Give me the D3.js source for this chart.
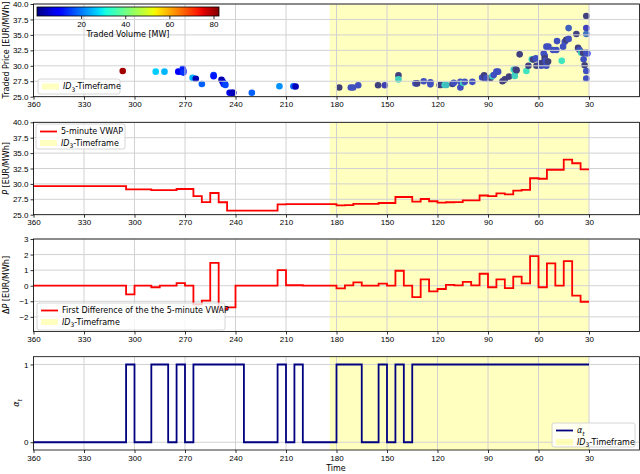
<!DOCTYPE html>
<html>
<head>
<meta charset="utf-8">
<script src="https://d3js.org/d3.v7.min.js"></script>
<style>
  body { margin: 0; background: #fff; }
  svg { font-family: "DejaVu Sans", sans-serif; }
  .tick text { font-size: 8px; fill: #000; }
  .tick line { stroke: #000; stroke-width: 0.8; }
  .grid line { stroke: #d2d2d2; stroke-width: 1; }
</style>
</head>
<body>
<svg id="chart" width="640" height="474"></svg>
<script>
// single trades: minutes before delivery, price [EUR/MWh], volume [MW]
var tradeTime = [307, 287.4, 282.2, 274, 272, 271.3, 271, 271, 265.5, 263.6, 260, 253, 253, 248.3, 247.6, 247, 246.3, 246,
  243.5, 242.2, 241.3, 230.3, 213.9, 205.6, 204.3,
  178.4, 171.5, 170.1, 167.1, 155.3, 151.3, 143.2, 143.2, 133.1, 132.1, 128.2, 124.2, 124.2, 118.7, 117.7, 115.7, 114.7,
  111.1, 110.3, 106.4, 106.4, 104.8, 103.8, 99.3, 93.5, 92.3, 91.9, 90.9, 88.6, 87.4, 86.6, 85, 84, 81.4, 80, 77.5,
  74.7, 74.1, 73.9, 73.5, 73, 71.2, 67.2, 66, 64, 63.2, 61.6, 61.2, 58.9, 58.3, 57.7, 56.9, 56.3, 56.3, 55.7, 55.3, 54.1,
  55.3, 54.3, 51.4, 49.4, 49, 46.2, 45.4, 44.4, 43.5, 42.1, 42.1, 37.5, 36.5, 35.6, 34.6, 33.6, 33.2, 32.6, 31.6, 31.6,
  31.6, 31.6, 31.6, 31.6, 31];
var tradePrice = [29.15, 29.05, 29.05, 29.05, 29.05, 29.5, 29.2, 28.9, 28.05, 27.9, 27.05, 28.5, 28.3, 27.75, 27.4, 27.05, 27.1, 26.9,
  25.65, 25.65, 25.65, 25.65, 26.7, 26.7, 26.65,
  26.5, 26.5, 26.5, 26.85, 26.85, 26.85, 28.45, 27.8, 27.15, 27.15, 27.5, 27.35, 27.0, 26.9, 26.9, 26.9, 26.9,
  27.05, 27.25, 27.4, 26.5, 27.25, 27.4, 27.4, 28.1, 28.45, 28.0, 28.0, 28.0, 28.3, 28.5, 29.05, 29.05, 27.5, 27.8, 28.25,
  29.4, 28.35, 29.05, 29.4, 29.3, 31.85, 29.15, 30.0, 31.05, 31.0, 31.2, 30.0, 30.4, 30.0, 30.5, 32.0, 31.6, 31.2, 30.8, 33.1, 33.1,
  30.0, 30.7, 32.55, 32.55, 34.0, 30.8, 33.1, 33.9, 34.2, 34.35, 36.1, 35.15, 32.9, 32.55, 32.1, 32.1, 31.05, 30.1, 32.1, 38.05,
  36.1, 35.15, 29.15, 27.95, 32.0];
var tradeVolume = [80, 27, 25, 10, 8, 14, 12, 14, 25, 4, 18, 15, 12, 3, 5, 12, 14, 16,
  8, 5, 4, 18, 22, 18, 4,
  2, 12, 12, 12, 3, 8, 3, 26, 12, 4, 12, 12, 12, 3, 4, 26, 24,
  4, 12, 12, 12, 26, 12, 12, 12, 3, 4, 12, 3, 26, 12, 12, 12, 3, 3, 3,
  26, 26, 26, 3, 3, 3, 28, 3, 26, 3, 12, 3, 12, 12, 3, 12, 12, 3, 12, 12, 12,
  12, 3, 12, 12, 12, 28, 12, 12, 3, 12, 14, 3, 3, 12, 26, 3, 12, 3, 12, 3,
  10, 16, 12, 12, 12];

// step series, value holds from each change time until the next one
var vwapTime = [360, 305, 290, 275, 265, 260, 255, 250, 245, 215, 210, 180, 175, 170, 155, 145, 135, 130, 125, 120,
  115, 110, 105, 100, 95, 90, 85, 80, 75, 70, 65, 60, 55, 45, 40, 35];
var vwapValue = [29.65, 29.1, 29.0, 29.17, 28.0, 27.03, 28.52, 27.02, 25.65, 26.68, 26.71, 26.52, 26.55, 26.75, 26.9, 27.87, 27.12, 27.55, 27.18, 26.96,
  27.02, 27.05, 27.32, 27.34, 28.12, 28.02, 28.45, 28.3, 28.9, 29.02, 30.92, 30.84, 32.3, 33.95, 33.35, 32.35];

var diffTime = [360, 305, 300, 290, 285, 275, 270, 265, 260, 255, 250, 245, 240, 215, 210, 200, 180, 175, 170, 165,
  155, 150, 145, 140, 135, 130, 125, 120, 115, 110, 105, 100, 95, 90, 85, 80, 75, 70, 65, 60, 55, 50, 45, 40, 35];
var diffValue = [0, -0.56, 0, -0.1, 0, 0.17, 0, -1.2, -0.96, 1.47, -1.5, -1.39, 0, 1.0, 0.03, 0, -0.17, 0.02, 0.21, 0,
  0.13, 0, 0.96, 0, -0.73, 0.41, -0.36, -0.21, 0.06, 0.02, 0.25, 0.02, 0.77, -0.1, 0.41, -0.15, 0.58, 0.15, 1.9, -0.1, 1.43, 0, 1.58, -0.64, -1.03];

var alphaTime = [360, 305, 300, 290, 280, 275, 270, 265, 235, 215, 210, 205, 200, 180, 165, 155, 150, 145, 140, 135];
var alphaValue = [0, 1, 0, 1, 0, 1, 0, 1, 0, 1, 0, 1, 0, 1, 0, 1, 0, 1, 0, 1];
var stepEnd = 30;

var xTicks = [360, 330, 300, 270, 240, 210, 180, 150, 120, 90, 60, 30];
var priceTicks = [25, 27.5, 30, 32.5, 35, 37.5, 40];
var diffTicks = [-2, -1, 0, 1, 2, 3];
var alphaTicks = [0, 1];
var volumeTicks = [20, 40, 60, 80];
var idStart = 184, idEnd = 30;

var svg = d3.select("#chart");

var x = d3.scaleLinear().domain([360, 0]).range([33.5, 639.5]);

// matplotlib jet colormap
function jet(t) {
  t = Math.max(0, Math.min(1, t));
  var r = d3.scaleLinear().domain([0, 0.35, 0.66, 0.89, 1]).range([0, 0, 1, 1, 0.5])(t);
  var g = d3.scaleLinear().domain([0, 0.125, 0.375, 0.64, 0.91, 1]).range([0, 0, 1, 1, 0, 0])(t);
  var b = d3.scaleLinear().domain([0, 0.11, 0.34, 0.65, 1]).range([0.5, 1, 1, 0, 0])(t);
  return d3.rgb(r * 255, g * 255, b * 255).formatHex();
}
var volScale = d3.scaleLinear().domain([0, 82.5]).range([0, 1]);

function makePanel(top, bottom, domain, ticks, fmt) {
  var y = d3.scaleLinear().domain(domain).range([bottom, top]);
  var g = svg.append("g");
  return {g: g, y: y, top: top, bottom: bottom, ticks: ticks, fmt: fmt};
}

function drawBand(p) {
  p.g.append("rect")
    .attr("x", x(idStart))
    .attr("width", x(idEnd) - x(idStart))
    .attr("y", p.top)
    .attr("height", p.bottom - p.top)
    .attr("fill", "#ffff00")
    .attr("opacity", 0.25);
}

function drawGrid(p) {
  var grid = p.g.append("g").attr("class", "grid");
  grid.selectAll(".gx").data(xTicks).enter().append("line")
    .attr("x1", d => x(d)).attr("x2", d => x(d))
    .attr("y1", p.top).attr("y2", p.bottom);
  grid.selectAll(".gy").data(p.ticks).enter().append("line")
    .attr("x1", x.range()[0]).attr("x2", x.range()[1])
    .attr("y1", d => p.y(d)).attr("y2", d => p.y(d));
}

function drawAxes(p) {
  var bottomAxis = d3.axisBottom(x).tickValues(xTicks).tickSize(3).tickPadding(2);
  var leftAxis = d3.axisLeft(p.y).tickValues(p.ticks).tickSize(3).tickPadding(2).tickFormat(p.fmt);
  p.g.append("g").attr("transform", `translate(0, ${p.bottom})`).call(bottomAxis)
    .call(a => a.select(".domain").remove());
  p.g.append("g").attr("transform", `translate(${x.range()[0]}, 0)`).call(leftAxis)
    .call(a => a.select(".domain").remove());
  p.g.append("rect")
    .attr("x", x.range()[0]).attr("y", p.top)
    .attr("width", x.range()[1] - x.range()[0]).attr("height", p.bottom - p.top)
    .attr("fill", "none").attr("stroke", "#000").attr("stroke-width", 0.8);
}

function stepLine(p, times, values, color) {
  var pts = times.map((t, i) => [t, values[i]]);
  pts.push([stepEnd, values[values.length - 1]]);
  var line = d3.line().x(d => x(d[0])).y(d => p.y(d[1])).curve(d3.curveStepAfter);
  p.g.append("path").datum(pts)
    .attr("d", line)
    .attr("fill", "none")
    .attr("stroke", color)
    .attr("stroke-width", 1.8);
}

// text made of plain / italic / subscript parts
function richText(sel, parts) {
  var shift = 0;
  parts.forEach(function(part) {
    var ts = sel.append("tspan").text(part.t);
    if (part.it) ts.attr("font-style", "italic");
    var want = part.sub ? 2.5 : 0;
    if (want !== shift) { ts.attr("dy", want - shift); shift = want; }
    if (part.sub) ts.attr("font-size", "6px");
  });
}

var idLabel = [{t: "ID", it: true}, {t: "3", sub: true}, {t: "-Timeframe"}];

function drawLegend(p, bx, by, bw, bh, entries) {
  var lg = p.g.append("g");
  lg.append("rect")
    .attr("x", bx).attr("y", by).attr("width", bw).attr("height", bh)
    .attr("rx", 2).attr("fill", "#fff").attr("fill-opacity", 0.8)
    .attr("stroke", "#cccccc").attr("stroke-width", 0.8);
  entries.forEach(function(e, i) {
    var cy = by + 7.5 + i * 11.5;
    if (e.type === "line") {
      lg.append("line").attr("x1", bx + 4).attr("x2", bx + 21).attr("y1", cy).attr("y2", cy)
        .attr("stroke", e.color).attr("stroke-width", 1.8);
    } else {
      lg.append("rect").attr("x", bx + 4).attr("y", cy - 3).attr("width", 17).attr("height", 6)
        .attr("fill", "#ffff00").attr("opacity", 0.25);
    }
    var txt = lg.append("text").attr("x", bx + 25).attr("y", cy).attr("dy", "0.35em")
      .attr("font-size", "8px");
    richText(txt, e.label);
  });
}

function yLabel(cx, cy, parts) {
  var t = svg.append("text")
    .attr("transform", `translate(${cx}, ${cy}) rotate(-90)`)
    .attr("text-anchor", "middle")
    .attr("font-size", "8px");
  richText(t, parts);
}

// panel 1: traded prices
var p1 = makePanel(4, 96.7, [25, 40], priceTicks, d3.format(".1f"));
p1.g.selectAll("circle")
  .data(tradeTime.map((t, i) => ({t: t, p: tradePrice[i], v: tradeVolume[i]})))
  .enter()
  .append("circle")
  .attr("cx", d => x(d.t))
  .attr("cy", d => p1.y(d.p))
  .attr("r", 3.3)
  .attr("fill", d => jet(volScale(d.v)));
drawBand(p1);
drawGrid(p1);
drawAxes(p1);
drawLegend(p1, 38, 79, 82, 15, [{type: "patch", label: idLabel}]);

// colorbar
var cbX = d3.scaleLinear().domain([0, 82.5]).range([37, 219]);
var grad = svg.append("defs").append("linearGradient").attr("id", "jetgrad");
d3.range(0, 1.0001, 0.02).forEach(function(s) {
  grad.append("stop").attr("offset", s).attr("stop-color", jet(s));
});
svg.append("rect").attr("x", 37).attr("y", 7).attr("width", 182).attr("height", 9)
  .attr("fill", "url(#jetgrad)").attr("stroke", "#000").attr("stroke-width", 0.8);
svg.append("g").attr("transform", "translate(0, 16)")
  .call(d3.axisBottom(cbX).tickValues(volumeTicks).tickSize(3).tickPadding(2))
  .call(a => a.select(".domain").remove());
svg.append("text").attr("x", 128).attr("y", 37).attr("text-anchor", "middle")
  .attr("font-size", "8px").text("Traded Volume [MW]");

// panel 2: VWAP
var p2 = makePanel(122.3, 214.7, [25, 40], priceTicks, d3.format(".1f"));
drawBand(p2);
drawGrid(p2);
stepLine(p2, vwapTime, vwapValue, "#ff0000");
drawAxes(p2);
drawLegend(p2, 36, 124, 89, 25, [
  {type: "line", color: "#ff0000", label: [{t: "5-minute VWAP"}]},
  {type: "patch", label: idLabel}
]);

// panel 3: first difference
var p3 = makePanel(239, 331.5, [-2.94, 3], diffTicks, d3.format("d"));
drawBand(p3);
drawGrid(p3);
stepLine(p3, diffTime, diffValue, "#ff0000");
drawAxes(p3);
drawLegend(p3, 37, 303, 188, 27, [
  {type: "line", color: "#ff0000", label: [{t: "First Difference of the the 5-minute VWAP"}]},
  {type: "patch", label: idLabel}
]);

// panel 4: alpha
var p4 = makePanel(356.7, 450, [-0.1, 1.1], alphaTicks, d3.format("d"));
drawBand(p4);
drawGrid(p4);
stepLine(p4, alphaTime, alphaValue, "#000080");
drawAxes(p4);
drawLegend(p4, 552, 423, 83, 24, [
  {type: "line", color: "#000080", label: [{t: "α", it: true}, {t: "t", it: true, sub: true}]},
  {type: "patch", label: idLabel}
]);

// axis labels
yLabel(9, 50, [{t: "Traded Price [EUR/MWh]"}]);
yLabel(9, 168.5, [{t: "P", it: true}, {t: " [EUR/MWh]"}]);
yLabel(9, 285, [{t: "Δ"}, {t: "P", it: true}, {t: " [EUR/MWh]"}]);
yLabel(19, 403, [{t: "α", it: true}, {t: "t", it: true, sub: true}]);
svg.append("text").attr("x", 336).attr("y", 471).attr("text-anchor", "middle")
  .attr("font-size", "8px").text("Time");
</script>
</body>
</html>
